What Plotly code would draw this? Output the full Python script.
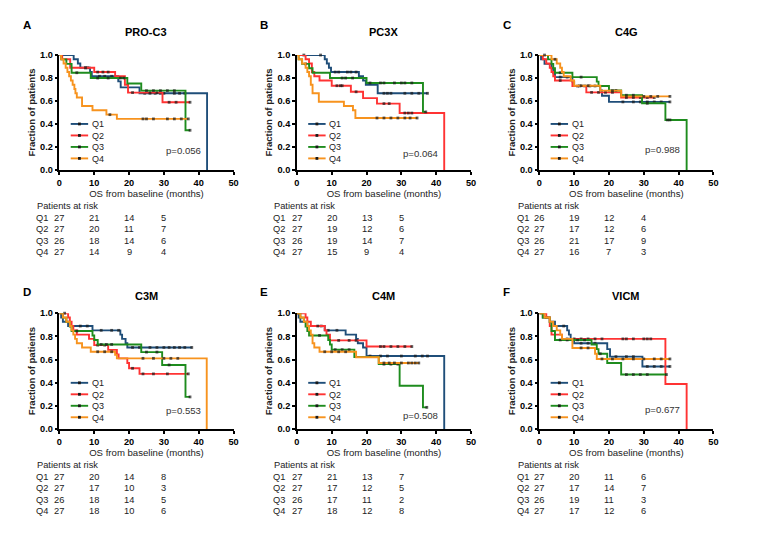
import plotly.graph_objects as go

# ---------------- data ----------------
GROUPS = ["Q1", "Q2", "Q3", "Q4"]
COLORS = {"Q1": "#1f4e79", "Q2": "#ff3333", "Q3": "#1e8c1e", "Q4": "#f7931e"}
PANEL_LETTERS = ["A", "B", "C", "D", "E", "F"]
PANEL_TITLES = ["PRO-C3", "PC3X", "C4G", "C3M", "C4M", "VICM"]
P_VALUES = ["p=0.056", "p=0.064", "p=0.988", "p=0.553", "p=0.508", "p=0.677"]
X_TICKS = [0, 10, 20, 30, 40, 50]
Y_TICKS = [0.0, 0.2, 0.4, 0.6, 0.8, 1.0]
RISK_TIMES = [0, 10, 20, 30]

# events: (times, survival after event); censored times
PROC3_EVENTS = {
    "Q1": ([4.1, 5.3, 6.0, 8.8, 9.3, 16.9, 17.6, 23.0, 42.4],
           [0.963, 0.926, 0.889, 0.852, 0.815, 0.771, 0.719, 0.667, 0.0]),
    "Q2": ([0.8, 3.1, 10.0, 16.0, 18.8, 19.7, 29.6],
           [0.963, 0.889, 0.852, 0.815, 0.741, 0.673, 0.589]),
    "Q3": ([0.5, 2.0, 3.5, 9.0, 19.5, 23.5, 36.2],
           [0.962, 0.923, 0.846, 0.800, 0.752, 0.690, 0.345]),
    "Q4": ([0.5, 1.2, 1.8, 2.3, 2.8, 3.3, 3.8, 4.3, 4.6, 5.0, 6.5, 9.5, 13.5, 16.5],
           [0.963, 0.926, 0.889, 0.852, 0.815, 0.778, 0.741, 0.704, 0.667, 0.630, 0.556, 0.519, 0.481, 0.444]),
}
PROC3_CENSOR = {
    "Q1": [7.5, 8.2, 11.5, 13.0, 15.0, 24.5, 26.0, 27.5, 29.0, 30.0, 33.0, 34.5, 36.0],
    "Q2": [7.5, 11.0, 12.5, 14.0, 21.0, 26.0, 28.0, 31.5, 33.5, 37.5],
    "Q3": [5.0, 11.0, 14.0, 17.5, 18.5, 25.0, 27.0, 29.0, 31.0, 33.0, 37.5],
    "Q4": [14.5, 24.0, 25.0, 27.0, 31.0, 33.0, 35.0, 37.0],
}

PC3X_EVENTS = {
    "Q1": ([8.0, 8.6, 9.2, 9.8, 17.8, 19.0, 19.8, 23.2],
           [0.963, 0.926, 0.889, 0.852, 0.815, 0.778, 0.741, 0.667]),
    "Q2": ([2.5, 3.5, 4.3, 5.0, 6.5, 10.0, 15.5, 19.0, 23.0, 29.5, 42.3],
           [0.963, 0.926, 0.852, 0.815, 0.778, 0.733, 0.680, 0.625, 0.577, 0.495, 0.0]),
    "Q3": ([0.5, 1.5, 3.5, 4.5, 9.5, 20.0, 36.2],
           [0.962, 0.923, 0.885, 0.846, 0.800, 0.757, 0.505]),
    "Q4": ([0.5, 1.5, 2.5, 3.0, 3.5, 4.0, 4.5, 6.3, 13.5, 16.1, 16.8],
           [0.963, 0.926, 0.889, 0.852, 0.815, 0.741, 0.667, 0.593, 0.556, 0.519, 0.452]),
}
PC3X_CENSOR = {
    "Q1": [2.0, 6.8, 11.0, 12.0, 14.5, 15.5, 17.0, 25.0, 26.0, 27.0, 31.0, 33.0, 35.0, 37.5],
    "Q2": [11.5, 12.5, 13.0, 17.0, 25.0, 26.5, 31.0, 32.0, 33.0],
    "Q3": [2.5, 13.0, 14.0, 16.0, 21.0, 24.0, 25.0, 28.0, 30.0, 31.0, 33.0, 37.0],
    "Q4": [23.0, 25.0, 27.0, 29.0, 31.0, 32.5, 34.5],
}

C4G_EVENTS = {
    "Q1": ([0.5, 1.5, 3.5, 4.0, 4.5, 9.5, 10.0, 17.5, 18.0, 20.0],
           [0.962, 0.923, 0.885, 0.846, 0.808, 0.769, 0.731, 0.692, 0.646, 0.592]),
    "Q2": ([1.0, 2.0, 3.0, 3.5, 4.0, 4.5, 9.5, 13.5, 23.5],
           [0.963, 0.926, 0.889, 0.852, 0.815, 0.778, 0.730, 0.675, 0.630]),
    "Q3": ([2.5, 3.5, 4.0, 4.5, 9.5, 16.5, 17.0, 20.0, 23.5, 29.5, 36.2, 42.3],
           [0.962, 0.923, 0.885, 0.846, 0.808, 0.769, 0.731, 0.692, 0.650, 0.580, 0.435, 0.0]),
    "Q4": ([3.5, 5.0, 6.0, 6.5, 7.0, 9.0, 10.0, 17.5, 23.5],
           [0.963, 0.926, 0.889, 0.852, 0.815, 0.778, 0.733, 0.690, 0.640]),
}
C4G_CENSOR = {
    "Q1": [6.0, 8.0, 11.5, 13.0, 14.5, 16.0, 24.0, 27.0, 29.0, 31.0, 33.0, 35.0, 37.5],
    "Q2": [6.0, 11.0, 15.0, 17.0, 19.0, 21.0, 25.0, 27.0, 29.0, 31.0, 33.0],
    "Q3": [6.0, 12.0, 22.0, 25.0, 27.0, 31.0, 36.8, 37.5],
    "Q4": [1.5, 4.5, 12.0, 14.0, 21.0, 25.0, 27.0, 30.0, 32.0, 34.0, 37.5],
}

C3M_EVENTS = {
    "Q1": ([0.5, 1.0, 2.5, 9.5, 17.5, 18.0, 19.0, 19.5],
           [0.963, 0.926, 0.889, 0.852, 0.815, 0.778, 0.741, 0.704]),
    "Q2": ([2.5, 3.0, 3.5, 4.0, 5.0, 8.5, 10.0, 14.0, 16.5, 17.0, 19.5, 20.0, 23.0],
           [0.963, 0.926, 0.889, 0.852, 0.815, 0.778, 0.724, 0.683, 0.643, 0.610, 0.570, 0.524, 0.476]),
    "Q3": ([1.0, 2.0, 3.0, 3.5, 9.5, 10.0, 11.0, 23.5, 29.5, 36.2],
           [0.962, 0.923, 0.885, 0.846, 0.808, 0.769, 0.730, 0.664, 0.553, 0.277]),
    "Q4": ([1.0, 2.0, 3.0, 3.5, 4.0, 4.5, 5.0, 6.5, 9.0, 16.0, 16.5, 42.3],
           [0.963, 0.926, 0.889, 0.852, 0.815, 0.778, 0.741, 0.704, 0.667, 0.640, 0.610, 0.0]),
}
C3M_CENSOR = {
    "Q1": [6.0, 8.0, 12.0, 15.0, 17.0, 21.0, 23.0, 26.0, 28.0, 30.0, 31.5, 33.0, 34.5, 36.0, 38.0],
    "Q2": [1.5, 11.0, 13.0, 21.0, 24.0, 27.0, 31.0, 37.0],
    "Q3": [5.0, 12.0, 13.5, 15.0, 25.0, 28.0, 31.5, 37.5],
    "Q4": [11.0, 13.0, 15.0, 24.0, 27.0, 30.0, 32.0, 34.0],
}

C4M_EVENTS = {
    "Q1": ([0.5, 1.0, 3.0, 8.0, 14.0, 17.0, 17.5, 19.0, 20.0, 42.3],
           [0.963, 0.926, 0.889, 0.852, 0.815, 0.778, 0.741, 0.704, 0.630, 0.0]),
    "Q2": ([2.5, 3.0, 4.0, 8.0, 8.5, 9.5, 20.0],
           [0.963, 0.926, 0.889, 0.852, 0.815, 0.765, 0.712]),
    "Q3": ([1.0, 2.0, 2.5, 3.0, 3.5, 9.0, 9.5, 10.0, 16.5, 23.5, 29.5, 36.2],
           [0.962, 0.923, 0.885, 0.846, 0.808, 0.769, 0.730, 0.685, 0.622, 0.560, 0.373, 0.187]),
    "Q4": ([1.0, 2.0, 3.0, 3.5, 4.0, 4.5, 5.0, 6.5, 17.0, 23.5],
           [0.963, 0.926, 0.889, 0.852, 0.815, 0.741, 0.704, 0.667, 0.620, 0.570]),
}
C4M_CENSOR = {
    "Q1": [7.0, 9.0, 11.5, 21.0, 24.0, 26.0, 30.0, 34.0, 36.0, 37.5],
    "Q2": [6.0, 12.0, 15.0, 17.0, 24.0, 25.0, 27.0, 29.0, 31.0, 33.0],
    "Q3": [6.5, 11.0, 13.0, 15.0, 25.0, 27.0, 29.0, 37.3],
    "Q4": [8.0, 10.0, 12.0, 14.0, 25.0, 26.5, 28.0, 30.0, 32.0, 33.0, 34.0, 35.0],
}

VICM_EVENTS = {
    "Q1": ([1.0, 3.0, 4.5, 8.0, 8.5, 9.0, 10.0, 19.5, 20.3, 29.6],
           [0.963, 0.926, 0.889, 0.852, 0.815, 0.778, 0.741, 0.690, 0.625, 0.540]),
    "Q2": ([2.0, 3.0, 3.5, 6.5, 36.2, 42.3],
           [0.963, 0.889, 0.815, 0.778, 0.389, 0.0]),
    "Q3": ([1.0, 3.0, 3.5, 4.5, 15.0, 16.5, 17.0, 19.5, 23.5],
           [0.962, 0.923, 0.846, 0.769, 0.730, 0.690, 0.650, 0.570, 0.470]),
    "Q4": ([1.5, 3.0, 4.0, 5.0, 6.0, 6.5, 9.5, 16.0, 16.5],
           [0.963, 0.926, 0.889, 0.852, 0.815, 0.778, 0.700, 0.650, 0.605]),
}
VICM_CENSOR = {
    "Q1": [2.0, 7.0, 12.0, 14.0, 16.0, 22.0, 25.0, 27.0, 31.0, 33.0, 35.0, 37.5],
    "Q2": [8.0, 10.0, 12.0, 14.0, 16.0, 18.0, 24.0, 25.0, 27.0, 30.0, 31.0, 32.0],
    "Q3": [6.0, 8.0, 11.0, 13.0, 17.5, 25.0, 27.0, 29.0, 31.0, 36.5],
    "Q4": [12.0, 14.0, 18.0, 21.0, 24.0, 27.0, 30.0, 33.0, 35.0, 37.5],
}

PROC3_RISK = {"Q1": [27, 21, 14, 5], "Q2": [27, 20, 11, 7], "Q3": [26, 18, 14, 6], "Q4": [27, 14, 9, 4]}
PC3X_RISK = {"Q1": [27, 20, 13, 5], "Q2": [27, 19, 12, 6], "Q3": [26, 19, 14, 7], "Q4": [27, 15, 9, 4]}
C4G_RISK = {"Q1": [26, 19, 12, 4], "Q2": [27, 17, 12, 6], "Q3": [26, 21, 17, 9], "Q4": [27, 16, 7, 3]}
C3M_RISK = {"Q1": [27, 20, 14, 8], "Q2": [27, 17, 10, 3], "Q3": [26, 18, 14, 5], "Q4": [27, 18, 10, 6]}
C4M_RISK = {"Q1": [27, 21, 13, 7], "Q2": [27, 17, 12, 5], "Q3": [26, 17, 11, 2], "Q4": [27, 18, 12, 8]}
VICM_RISK = {"Q1": [27, 20, 11, 6], "Q2": [27, 17, 14, 7], "Q3": [26, 19, 11, 3], "Q4": [27, 17, 12, 6]}

PANEL_EVENTS = [PROC3_EVENTS, PC3X_EVENTS, C4G_EVENTS, C3M_EVENTS, C4M_EVENTS, VICM_EVENTS]
PANEL_CENSOR = [PROC3_CENSOR, PC3X_CENSOR, C4G_CENSOR, C3M_CENSOR, C4M_CENSOR, VICM_CENSOR]
PANEL_RISK = [PROC3_RISK, PC3X_RISK, C4G_RISK, C3M_RISK, C4M_RISK, VICM_RISK]

# ---------------- layout geometry (pixels) ----------------
W, H = 762, 540
COL_X = [(57, 233), (297, 473), (542, 718)]
ROW_Y = [(51, 168), (314, 432)]
TABLE_LEFT = [32, 272, 518]
ROW_OFFSET = [0, 264]
LETTER_Y = [20, 292]
TITLE_Y = [28, 296]

FONT = "Liberation Sans, Arial, sans-serif"
LEG_FONT = 9
LEG_STEP_PX = LEG_FONT * 1.3
LEG_CENTER = 0.25


def px(x):
    return x / W


def py(y):
    return 1 - y / H


def km_path(events, censors):
    ev_t, ev_s = events
    pts = [(0.0, 1.0, 0)]
    for t, s in zip(ev_t, ev_s):
        pts.append((t, s, 0))
    for c in censors:
        s = 1.0
        for t, sv in zip(ev_t, ev_s):
            if t <= c:
                s = sv
        pts.append((c, s, 1))
    pts.sort(key=lambda p: (p[0], -p[2]))
    xs = [p[0] for p in pts]
    ys = [p[1] for p in pts]
    sizes = [2.8 if p[2] else 0 for p in pts]
    return xs, ys, sizes


fig = go.Figure()
annotations = []
shapes = []
layout_axes = {}

p_y = [0.17, 0.14, 0.18, 0.16, 0.12, 0.17]

for i in range(6):
    r, c = divmod(i, 3)
    n = i + 1
    xa = "x" if n == 1 else f"x{n}"
    ya = "y" if n == 1 else f"y{n}"
    xkey = "xaxis" if n == 1 else f"xaxis{n}"
    ykey = "yaxis" if n == 1 else f"yaxis{n}"
    x0, x1 = COL_X[c]
    y0, y1 = ROW_Y[r]
    plot_h = y1 - y0

    for g in GROUPS:
        xs, ys, sizes = km_path(PANEL_EVENTS[i][g], PANEL_CENSOR[i][g])
        fig.add_trace(go.Scatter(
            x=xs, y=ys, mode="lines+markers", line_shape="hv",
            line=dict(color=COLORS[g], width=1.9),
            marker=dict(size=sizes, color="#1a1a1a", symbol="square", line=dict(width=0)),
            xaxis=xa, yaxis=ya, showlegend=False, name=g, cliponaxis=False,
        ))

    axis_common = dict(
        showline=True, linecolor="black", linewidth=1.5, ticks="outside",
        ticklen=3, tickwidth=1.5, tickcolor="black", showgrid=False, zeroline=False,
        tickfont=dict(family=FONT, size=9.2, color="black", weight="bold"),
    )
    layout_axes[xkey] = dict(
        axis_common, domain=[px(x0), px(x1)], anchor=ya, range=[0, 50],
        tickvals=X_TICKS,
        title=dict(text="OS from baseline (months)", font=dict(family=FONT, size=9.6, color="#222"), standoff=3),
    )
    layout_axes[ykey] = dict(
        axis_common, domain=[py(y1), py(y0)], anchor=xa, range=[0, 1.0],
        tickvals=Y_TICKS, tickformat=".1f",
        title=dict(text="Fraction of patients", font=dict(family=FONT, size=9.5, color="#222", weight="bold"), standoff=3),
    )

    # panel letter and title
    annotations.append(dict(text=f"<b>{PANEL_LETTERS[i]}</b>", xref="paper", yref="paper",
                            x=px(x0 - 33), y=py(LETTER_Y[r]), xanchor="center", yanchor="middle",
                            showarrow=False, font=dict(family=FONT, size=11.5, color="black")))
    annotations.append(dict(text=f"<b>{PANEL_TITLES[i]}</b>", xref="paper", yref="paper",
                            x=px((x0 + x1) / 2), y=py(TITLE_Y[r]), xanchor="center", yanchor="middle",
                            showarrow=False, font=dict(family=FONT, size=11, color="black")))
    # p-value
    annotations.append(dict(text=P_VALUES[i], xref=f"{xa} domain", yref=f"{ya} domain",
                            x=0.71, y=p_y[i], xanchor="center", yanchor="middle", showarrow=False,
                            font=dict(family=FONT, size=9.6, color="#333")))
    # legend (one multi-line label block, sample lines aligned to its rows)
    step = LEG_STEP_PX / plot_h
    for k, g in enumerate(GROUPS):
        ly = LEG_CENTER + (1.5 - k) * step
        shapes.append(dict(type="line", xref=f"{xa} domain", yref=f"{ya} domain",
                           x0=0.065, x1=0.165, y0=ly, y1=ly,
                           line=dict(color=COLORS[g], width=1.9)))
        shapes.append(dict(type="rect", xref=f"{xa} domain", yref=f"{ya} domain",
                           xsizemode="pixel", ysizemode="pixel", xanchor=0.115, yanchor=ly,
                           x0=-1.4, x1=1.4, y0=-1.4, y1=1.4, fillcolor="#1a1a1a", line=dict(width=0)))
    annotations.append(dict(text="<br>".join(GROUPS), xref=f"{xa} domain", yref=f"{ya} domain",
                            x=0.18, y=LEG_CENTER, xanchor="left", yanchor="middle", align="left",
                            showarrow=False, borderpad=0,
                            font=dict(family=FONT, size=LEG_FONT, color="#222")))
    # risk table
    off = ROW_OFFSET[r]
    annotations.append(dict(text="Patients at risk", xref="paper", yref="paper",
                            x=px(TABLE_LEFT[c]), y=py(205 + off), xanchor="left", yanchor="middle",
                            showarrow=False, font=dict(family=FONT, size=9.3, color="#222")))
    row_ys = [217, 228.5, 240.5, 252]
    for k, g in enumerate(GROUPS):
        yy = py(row_ys[k] + off)
        annotations.append(dict(text=g, xref="paper", yref="paper", x=px(TABLE_LEFT[c] - 1), y=yy,
                                xanchor="left", yanchor="middle", showarrow=False,
                                font=dict(family=FONT, size=9.3, color="#222")))
        for t, v in zip(RISK_TIMES, PANEL_RISK[i][g]):
            annotations.append(dict(text=str(v), xref=xa, yref="paper", x=t, y=yy,
                                    xanchor="center", yanchor="middle", showarrow=False,
                                    font=dict(family=FONT, size=9.3, color="#222")))

fig.update_layout(
    width=W, height=H, margin=dict(l=0, r=0, t=0, b=0),
    paper_bgcolor="white", plot_bgcolor="white",
    annotations=annotations, shapes=shapes, showlegend=False,
    font=dict(family=FONT),
    **layout_axes,
)

fig.write_html("out.html", config={"displayModeBar": False},
               post_script="document.body.style.margin='0';")
